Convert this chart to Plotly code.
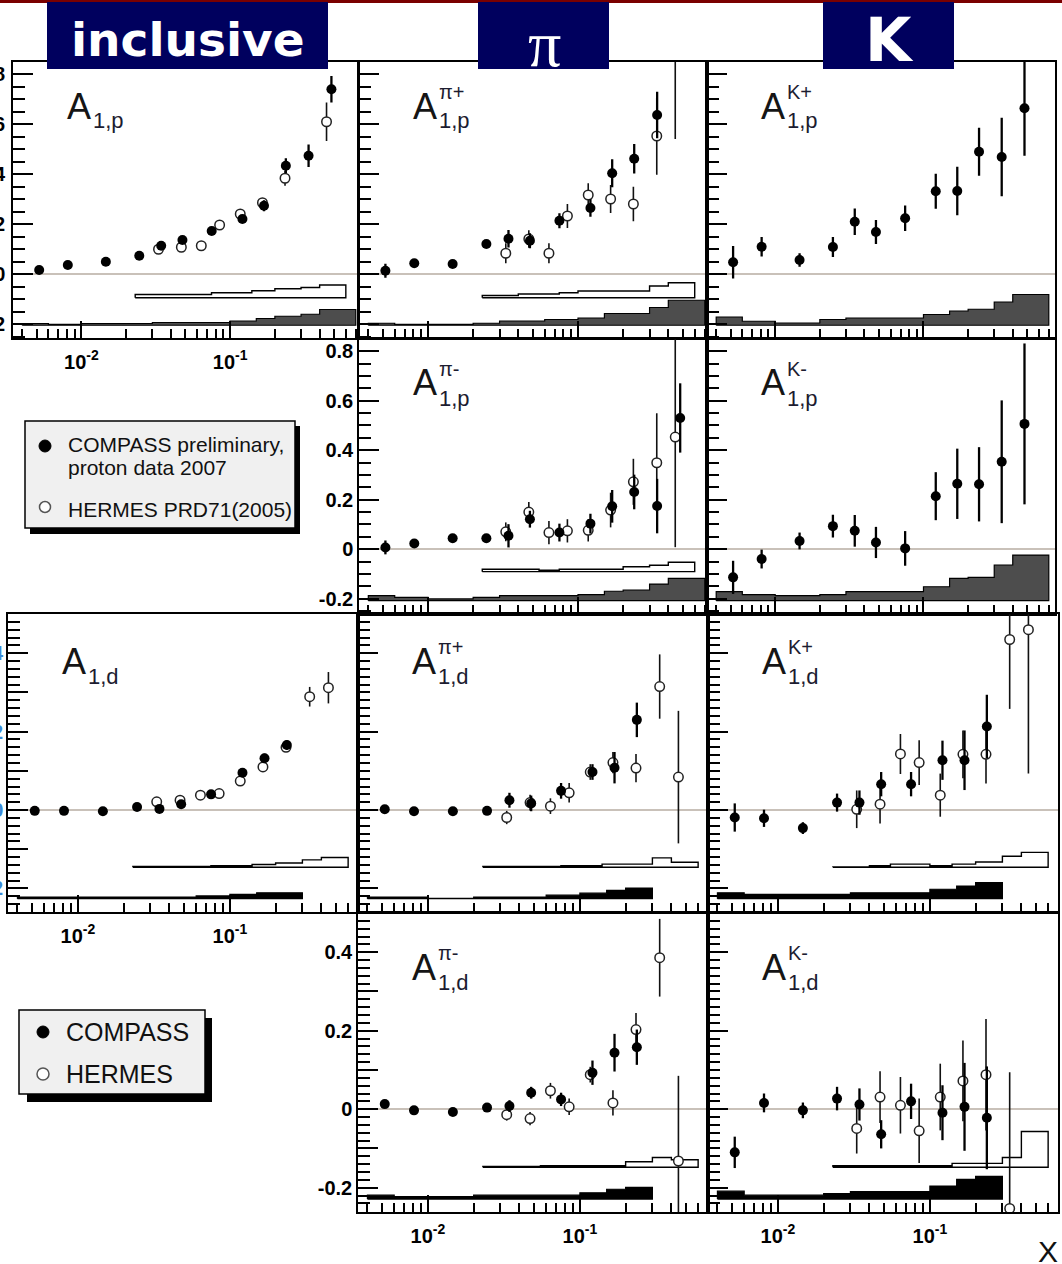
import plotly.graph_objects as go

W, H = 1062, 1264

# ---------------- kinematics ----------------
X_COMPASS = [0.0052, 0.0081, 0.0146, 0.0245, 0.0344, 0.0478, 0.0752, 0.121, 0.169, 0.237, 0.337, 0.48]
X_HERMES = [0.033, 0.047, 0.064, 0.085, 0.117, 0.165, 0.234, 0.335, 0.445]
EDGES_COMPASS = [0.004, 0.006, 0.01, 0.02, 0.03, 0.04, 0.06, 0.1, 0.15, 0.2, 0.3, 0.4, 0.7]
EDGES_HERMES = [0.023, 0.04, 0.055, 0.075, 0.1, 0.14, 0.2, 0.3, 0.4, 0.6]

# ---------------- proton: inclusive A1,p ----------------
a1p_c = [0.016, 0.036, 0.049, 0.073, 0.113, 0.136, 0.172, 0.22, 0.273, 0.433, 0.473, 0.739]
a1p_c_err = [0.006, 0.006, 0.007, 0.008, 0.01, 0.01, 0.012, 0.014, 0.022, 0.03, 0.045, 0.053]
a1p_h_x = [0.033, 0.047, 0.064, 0.085, 0.117, 0.165, 0.234, 0.445]
a1p_h = [0.099, 0.107, 0.113, 0.196, 0.24, 0.285, 0.383, 0.609]
a1p_h_err = [0.01, 0.01, 0.01, 0.012, 0.012, 0.015, 0.03, 0.077]
a1p_sys_c = [0.007, 0.004, 0.007, 0.007, 0.011, 0.011, 0.011, 0.017, 0.027, 0.036, 0.044, 0.063]
a1p_sys_h = [0.013, 0.013, 0.013, 0.02, 0.02, 0.028, 0.036, 0.041, 0.051]

# ---------------- proton: pi+ ----------------
pip_p_c = [0.013, 0.043, 0.04, 0.12, 0.141, 0.133, 0.213, 0.264, 0.403, 0.461, 0.636]
pip_p_c_err = [0.028, 0.01, 0.01, 0.015, 0.035, 0.03, 0.03, 0.035, 0.056, 0.059, 0.093]
pip_p_h = [0.083, 0.14, 0.083, 0.232, 0.316, 0.3, 0.28, 0.552, 0.98]
pip_p_h_err = [0.04, 0.035, 0.04, 0.048, 0.047, 0.056, 0.069, 0.155, 0.44]
pip_p_sys_c = [0.008, 0.004, 0.004, 0.008, 0.017, 0.017, 0.023, 0.029, 0.047, 0.047, 0.071, 0.1]
pip_p_sys_h = [0.009, 0.015, 0.015, 0.02, 0.027, 0.027, 0.027, 0.047, 0.06]

# ---------------- proton: K+ ----------------
kp_p_c = [0.047, 0.109, 0.056, 0.108, 0.209, 0.168, 0.223, 0.331, 0.332, 0.489, 0.468, 0.663]
kp_p_c_err = [0.065, 0.039, 0.027, 0.04, 0.053, 0.048, 0.051, 0.07, 0.097, 0.096, 0.157, 0.19]
kp_p_sys_c = [0.033, 0.016, 0.009, 0.023, 0.029, 0.029, 0.029, 0.043, 0.057, 0.064, 0.093, 0.123]

# ---------------- proton: pi- ----------------
pim_p_c = [0.007, 0.023, 0.044, 0.044, 0.054, 0.121, 0.067, 0.103, 0.173, 0.231, 0.174, 0.53]
pim_p_c_err = [0.028, 0.01, 0.01, 0.012, 0.047, 0.034, 0.036, 0.04, 0.066, 0.07, 0.11, 0.14]
pim_p_h = [0.07, 0.15, 0.067, 0.074, 0.076, 0.158, 0.272, 0.349, 0.453]
pim_p_h_err = [0.038, 0.04, 0.047, 0.047, 0.045, 0.07, 0.093, 0.2, 0.445]
pim_p_sys_c = [0.02, 0.013, 0.007, 0.013, 0.02, 0.02, 0.02, 0.024, 0.038, 0.043, 0.067, 0.09]
pim_p_sys_h = [0.01, 0.01, 0.006, 0.01, 0.01, 0.01, 0.02, 0.026, 0.038]

# ---------------- proton: K- ----------------
km_p_c = [-0.114, -0.04, 0.033, 0.093, 0.074, 0.027, 0.003, 0.214, 0.264, 0.262, 0.353, 0.506]
km_p_c_err = [0.067, 0.038, 0.034, 0.046, 0.064, 0.063, 0.07, 0.097, 0.142, 0.15, 0.248, 0.325]
km_p_sys_c = [0.036, 0.024, 0.02, 0.024, 0.036, 0.036, 0.036, 0.056, 0.09, 0.094, 0.144, 0.184]

# ---------------- deuteron: inclusive A1,d ----------------
a1d_c = [-0.002, -0.002, -0.003, 0.008, 0.003, 0.015, 0.04, 0.095, 0.132, 0.166]
a1d_c_err = [0.004, 0.004, 0.004, 0.005, 0.005, 0.005, 0.006, 0.008, 0.012, 0.012]
a1d_h = [0.021, 0.025, 0.038, 0.042, 0.074, 0.11, 0.16, 0.289, 0.312]
a1d_h_err = [0.005, 0.005, 0.005, 0.006, 0.007, 0.008, 0.01, 0.025, 0.04]
a1d_sys_c = [0.004, 0.004, 0.004, 0.004, 0.004, 0.004, 0.007, 0.011, 0.015, 0.015]
a1d_sys_h = [0.002, 0.002, 0.002, 0.004, 0.004, 0.007, 0.011, 0.019, 0.025]

# ---------------- deuteron: pi+ ----------------
pip_d_c = [0.002, -0.003, -0.003, -0.002, 0.025, 0.017, 0.049, 0.097, 0.108, 0.23]
pip_d_c_err = [0.008, 0.005, 0.005, 0.006, 0.019, 0.02, 0.02, 0.02, 0.04, 0.044]
pip_d_h = [-0.019, 0.019, 0.01, 0.044, 0.097, 0.121, 0.107, 0.315, 0.084]
pip_d_h_err = [0.017, 0.02, 0.02, 0.025, 0.02, 0.027, 0.036, 0.082, 0.169]
pip_d_sys_c = [0.004, 0.004, 0.001, 0.004, 0.004, 0.004, 0.009, 0.014, 0.021, 0.027]
pip_d_sys_h = [0.002, 0.002, 0.002, 0.004, 0.004, 0.008, 0.008, 0.024, 0.013]

# ---------------- deuteron: K+ ----------------
kp_d_c = [-0.019, -0.021, -0.046, 0.019, 0.019, 0.066, 0.066, 0.127, 0.127, 0.213]
kp_d_c_err = [0.036, 0.022, 0.015, 0.023, 0.031, 0.031, 0.031, 0.05, 0.076, 0.081]
kp_d_h = [0.002, 0.015, 0.143, 0.121, 0.038, 0.142, 0.142, 0.435, 0.46]
kp_d_h_err = [0.048, 0.049, 0.051, 0.057, 0.055, 0.061, 0.074, 0.177, 0.367]
kp_d_sys_c = [0.015, 0.011, 0.011, 0.011, 0.015, 0.015, 0.015, 0.024, 0.032, 0.041]
kp_d_sys_h = [0.001, 0.004, 0.008, 0.008, 0.004, 0.008, 0.0135, 0.028, 0.038]

# ---------------- deuteron: pi- ----------------
pim_d_c = [0.013, -0.003, -0.007, 0.004, 0.008, 0.042, 0.025, 0.093, 0.144, 0.158]
pim_d_c_err = [0.008, 0.006, 0.006, 0.006, 0.015, 0.015, 0.017, 0.031, 0.048, 0.045]
pim_d_h = [-0.014, -0.024, 0.047, 0.006, 0.088, 0.016, 0.203, 0.386, -0.132]
pim_d_h_err = [0.015, 0.017, 0.02, 0.021, 0.02, 0.032, 0.042, 0.099, 0.217]
pim_d_sys_c = [0.01, 0.006, 0.006, 0.01, 0.01, 0.01, 0.01, 0.016, 0.025, 0.03]
pim_d_sys_h = [0.002, 0.002, 0.004, 0.004, 0.004, 0.004, 0.014, 0.025, 0.019]

# ---------------- deuteron: K- ----------------
km_d_c = [-0.11, 0.016, -0.003, 0.027, 0.012, -0.064, 0.02, -0.009, 0.006, -0.022]
km_d_c_err = [0.04, 0.024, 0.02, 0.03, 0.041, 0.036, 0.045, 0.07, 0.112, 0.131]
km_d_h = [-0.049, 0.031, 0.01, -0.055, 0.031, 0.072, 0.088, -0.253]
km_d_h_err = [0.064, 0.066, 0.072, 0.082, 0.085, 0.103, 0.142, 0.347]
km_d_sys_c = [0.02, 0.01, 0.01, 0.014, 0.019, 0.019, 0.019, 0.033, 0.05, 0.058]
km_d_sys_h = [0.004, 0.004, 0.004, 0.004, 0.004, 0.01, 0.01, 0.025, 0.091]

# ---------------- axis labels ----------------
Y_TICKS_P = [-0.2, 0, 0.2, 0.4, 0.6, 0.8]
Y_TEXT_P = ["-0.2", "0", "0.2", "0.4", "0.6", "0.8"]
Y_TICKS_D = [-0.2, -0.1, 0, 0.1, 0.2, 0.3, 0.4, 0.5]
Y_TEXT_D = ["-0.2", "", "0", "", "0.2", "", "0.4", ""]
X_TICKS = [0.01, 0.1]
X_TEXT = ["10<sup>-2</sup>", "10<sup>-1</sup>"]
X_MINOR = [0.004, 0.005, 0.006, 0.007, 0.008, 0.009,
           0.02, 0.03, 0.04, 0.05, 0.06, 0.07, 0.08, 0.09,
           0.2, 0.3, 0.4, 0.5, 0.6, 0.7, 0.8, 0.9]

# panel layout in page pixels: (left, right), (top, bottom)
PANELS = [
    dict(id="a1p", row=1, px=(13, 358), py=(62, 338), xr=(-2.46, -0.14),
         c=a1p_c, ce=a1p_c_err, hx=a1p_h_x, h=a1p_h, he=a1p_h_err,
         sc=a1p_sys_c, sh=a1p_sys_h, sup=None, sub="1,p", xlab=True, ylab="cut"),
    dict(id="pip_p", row=1, px=(359, 707), py=(62, 338), xr=(-2.46, -0.14),
         c=pip_p_c, ce=pip_p_c_err, hx=X_HERMES, h=pip_p_h, he=pip_p_h_err,
         sc=pip_p_sys_c, sh=pip_p_sys_h, sup="π+", sub="1,p", xlab=False, ylab=None),
    dict(id="kp_p", row=1, px=(707, 1055), py=(62, 338), xr=(-2.46, -0.113),
         c=kp_p_c, ce=kp_p_c_err, hx=None, h=None, he=None,
         sc=kp_p_sys_c, sh=None, sup="K+", sub="1,p", xlab=False, ylab=None),
    dict(id="pim_p", row=2, px=(359, 707), py=(339, 614), xr=(-2.46, -0.14),
         c=pim_p_c, ce=pim_p_c_err, hx=X_HERMES, h=pim_p_h, he=pim_p_h_err,
         sc=pim_p_sys_c, sh=pim_p_sys_h, sup="π-", sub="1,p", xlab=False, ylab="show"),
    dict(id="km_p", row=2, px=(707, 1055), py=(339, 614), xr=(-2.46, -0.113),
         c=km_p_c, ce=km_p_c_err, hx=None, h=None, he=None,
         sc=km_p_sys_c, sh=None, sup="K-", sub="1,p", xlab=False, ylab=None),
    dict(id="a1d", row=3, px=(8, 358), py=(614, 912), xr=(-2.46, -0.157),
         c=a1d_c, ce=a1d_c_err, hx=X_HERMES, h=a1d_h, he=a1d_h_err,
         sc=a1d_sys_c, sh=a1d_sys_h, sup=None, sub="1,d", xlab=True, ylab="cut"),
    dict(id="pip_d", row=3, px=(358, 708), py=(614, 912), xr=(-2.46, -0.157),
         c=pip_d_c, ce=pip_d_c_err, hx=X_HERMES, h=pip_d_h, he=pip_d_h_err,
         sc=pip_d_sys_c, sh=pip_d_sys_h, sup="π+", sub="1,d", xlab=False, ylab=None),
    dict(id="kp_d", row=3, px=(708, 1058), py=(614, 912), xr=(-2.46, -0.157),
         c=kp_d_c, ce=kp_d_c_err, hx=X_HERMES, h=kp_d_h, he=kp_d_h_err,
         sc=kp_d_sys_c, sh=kp_d_sys_h, sup="K+", sub="1,d", xlab=False, ylab=None),
    dict(id="pim_d", row=4, px=(358, 708), py=(913, 1212), xr=(-2.46, -0.157),
         c=pim_d_c, ce=pim_d_c_err, hx=X_HERMES, h=pim_d_h, he=pim_d_h_err,
         sc=pim_d_sys_c, sh=pim_d_sys_h, sup="π-", sub="1,d", xlab=True, ylab="show"),
    dict(id="km_d", row=4, px=(708, 1058), py=(913, 1212), xr=(-2.46, -0.157),
         c=km_d_c, ce=km_d_c_err, hx=X_HERMES[:8], h=km_d_h, he=km_d_h_err,
         sc=km_d_sys_c, sh=km_d_sys_h, sup="K-", sub="1,d", xlab=True, ylab=None),
]

ROW_STYLE = {
    1: dict(yr=(-0.256, 0.848), base_c=-0.205, base_h=-0.095, band="#4d4d4d", label_dy=44),
    2: dict(yr=(-0.262, 0.849), base_c=-0.208, base_h=-0.091, band="#4d4d4d", label_dy=44),
    3: dict(yr=(-0.26, 0.5), base_c=-0.226, base_h=-0.146, band="black", label_dy=47),
    4: dict(yr=(-0.262, 0.5), base_c=-0.229, base_h=-0.148, band="black", label_dy=54),
}


def fx(p):
    return p / W


def fy(p):
    return 1 - p / H


def step_band(edges, heights, base):
    """Closed outline of a step histogram sitting on a baseline."""
    xs, ys = [edges[0]], [base]
    for i, hgt in enumerate(heights):
        xs += [edges[i], edges[i + 1]]
        ys += [base + hgt, base + hgt]
    xs += [edges[len(heights)], edges[0]]
    ys += [base, base]
    return xs, ys


fig = go.Figure()
layout_axes = {}
annotations = []
TICKFONT = dict(family="Liberation Sans", size=20, color="black", weight="bold")

for k, p in enumerate(PANELS, start=1):
    st = ROW_STYLE[p["row"]]
    xa, ya = f"x{k}", f"y{k}"

    # systematic bands
    bx, by = step_band(EDGES_COMPASS, p["sc"], st["base_c"])
    fig.add_trace(go.Scatter(x=bx, y=by, xaxis=xa, yaxis=ya, mode="lines", fill="toself",
                             fillcolor=st["band"], line=dict(color="black", width=1.2),
                             hoverinfo="skip", showlegend=False))
    if p["sh"] is not None:
        bx, by = step_band(EDGES_HERMES, p["sh"], st["base_h"])
        fig.add_trace(go.Scatter(x=bx, y=by, xaxis=xa, yaxis=ya, mode="lines", fill="toself",
                                 fillcolor="white", line=dict(color="black", width=1.4),
                                 hoverinfo="skip", showlegend=False))

    # HERMES points (open)
    if p["h"] is not None:
        fig.add_trace(go.Scatter(
            x=p["hx"], y=p["h"], xaxis=xa, yaxis=ya, mode="markers", name="HERMES",
            marker=dict(size=9.5, color="white", line=dict(color="#222", width=1.5)),
            error_y=dict(type="data", array=p["he"], visible=True, thickness=1.6, width=0,
                         color="#111"),
            showlegend=False))

    # COMPASS points (filled)
    fig.add_trace(go.Scatter(
        x=X_COMPASS[:len(p["c"])], y=p["c"], xaxis=xa, yaxis=ya, mode="markers", name="COMPASS",
        marker=dict(size=10, color="black"),
        error_y=dict(type="data", array=p["ce"], visible=True, thickness=2.3, width=0,
                     color="black"),
        showlegend=False))

    common = dict(showline=True, linecolor="black", linewidth=1.5, mirror=True,
                  ticks="inside", tickcolor="black", tickwidth=1.5,
                  showgrid=False, automargin=False, tickfont=TICKFONT)

    layout_axes[f"xaxis{k}"] = dict(
        common, type="log", range=list(p["xr"]), anchor=ya,
        domain=[fx(p["px"][0]), fx(p["px"][1])],
        tickmode="array", tickvals=X_TICKS, ticktext=X_TEXT, ticklen=17,
        showticklabels=p["xlab"], ticklabelstandoff=5, zeroline=False,
        minor=dict(tickmode="array", tickvals=X_MINOR, ticks="inside", ticklen=9,
                   tickcolor="black", tickwidth=1.5))

    proton = p["row"] <= 2
    ycfg = dict(
        common, range=list(st["yr"]), anchor=xa,
        domain=[fy(p["py"][1]), fy(p["py"][0])],
        tickmode="array",
        tickvals=Y_TICKS_P if proton else Y_TICKS_D,
        ticktext=Y_TEXT_P if proton else Y_TEXT_D,
        ticklen=20, showticklabels=p["ylab"] is not None,
        zeroline=True, zerolinecolor="#c9c1b9", zerolinewidth=1.5,
        minor=dict(tickmode="linear", tick0=0, dtick=0.05 if proton else 0.02,
                   ticks="inside", ticklen=12, tickcolor="black", tickwidth=1.5))
    if p["ylab"] == "cut":
        ycfg["ticklabelstandoff"] = 2 if proton else -1
        if not proton:
            ycfg["tickfont"] = dict(TICKFONT, color="#3a8ad8")
    elif p["ylab"] == "show":
        ycfg["ticklabelstandoff"] = 0
    layout_axes[f"yaxis{k}"] = ycfg

    # panel title A^{h}_{1,N}
    L, T = p["px"][0], p["py"][0]
    cy = T + st["label_dy"]
    annotations.append(dict(text="A", x=fx(L + 52), y=fy(cy), xref="paper", yref="paper",
                            xanchor="left", yanchor="middle", showarrow=False,
                            font=dict(family="Liberation Sans", size=36, color="#151515")))
    annotations.append(dict(text=p["sub"], x=fx(L + 78), y=fy(cy + 15), xref="paper",
                            yref="paper", xanchor="left", yanchor="middle", showarrow=False,
                            font=dict(family="Liberation Sans", size=22, color="#1c1c30")))
    if p["sup"]:
        annotations.append(dict(text=p["sup"], x=fx(L + 78), y=fy(cy - 14), xref="paper",
                                yref="paper", xanchor="left", yanchor="middle", showarrow=False,
                                font=dict(family="Liberation Sans", size=20, color="#1c1c30")))


def note(text, x, y, size, xanchor="left", color="#111", family="Liberation Sans",
         weight="normal"):
    return dict(text=text, x=fx(x), y=fy(y), xref="paper", yref="paper", xanchor=xanchor,
                yanchor="middle", showarrow=False,
                font=dict(family=family, size=size, color=color, weight=weight))


def rect(x0, y0, x1, y1, fill, line_color=None, lw=0):
    return dict(type="rect", xref="paper", yref="paper", x0=fx(x0), x1=fx(x1),
                y0=fy(y1), y1=fy(y0), fillcolor=fill, layer="above",
                line=dict(color=line_color or fill, width=lw))


def dot(cx, cy, d, fill, line_color, lw):
    return dict(type="circle", xref="paper", yref="paper", x0=fx(cx - d / 2), x1=fx(cx + d / 2),
                y0=fy(cy + d / 2), y1=fy(cy - d / 2), fillcolor=fill, layer="above",
                line=dict(color=line_color, width=lw))


NAVY = "#00005e"
shapes = [
    rect(0, 0, W, 3, "#7a0000"),
    rect(47, 2, 328, 69, NAVY),
    rect(478, 2, 609, 69, NAVY),
    rect(823, 2, 954, 69, NAVY),
    # legend (proton)
    rect(30, 426, 300, 534, "black"),
    rect(25, 421, 295, 528, "#f0f0f0", "black", 1.5),
    dot(45, 446, 12, "black", "black", 1),
    dot(45, 507, 11, "white", "#555", 1.5),
    # legend (deuteron)
    rect(27, 1018, 212, 1102, "black"),
    rect(19, 1010, 205, 1094, "#f0f0f0", "black", 1.5),
    dot(43, 1032, 12, "black", "black", 1),
    dot(43, 1074, 12, "white", "#555", 1.5),
]

annotations += [
    note("inclusive", 188, 40, 47, xanchor="center", color="white", family="DejaVu Sans",
         weight="bold"),
    note("π", 544, 44, 66, xanchor="center", color="white", family="Liberation Serif"),
    note("K", 889, 40, 60, xanchor="center", color="white", family="DejaVu Sans",
         weight="bold"),
    note("COMPASS preliminary,", 66, 444, 21),
    note("proton data 2007", 66, 468, 21),
    note("HERMES PRD71(2005)", 66, 509, 21),
    note("COMPASS", 64, 1032, 25),
    note("HERMES", 64, 1074, 25),
    note("X", 1048, 1251, 30, xanchor="center"),
]

fig.update_layout(
    width=W, height=H, margin=dict(l=0, r=0, t=0, b=0),
    paper_bgcolor="white", plot_bgcolor="white", template="none",
    showlegend=False, shapes=shapes, annotations=annotations,
    font=dict(family="Liberation Sans"),
    **layout_axes,
)

fig.write_html("out.html")
